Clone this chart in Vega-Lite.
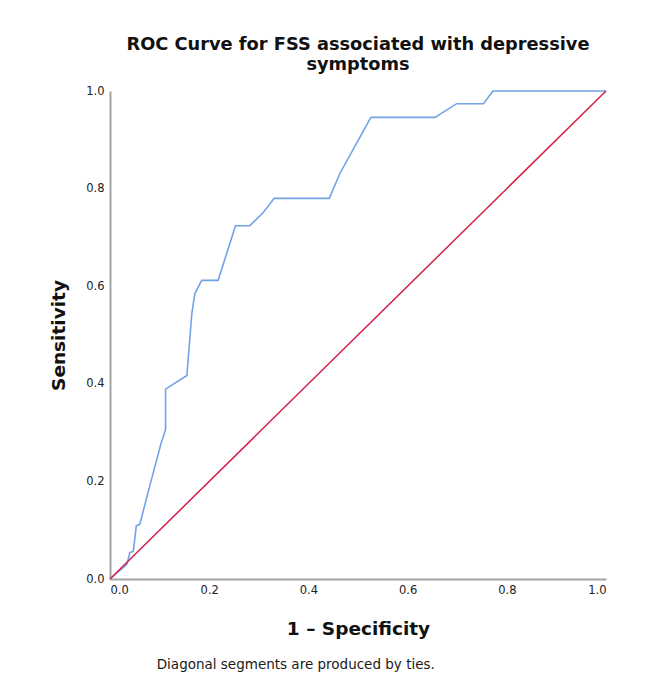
{
  "$schema": "https://vega.github.io/schema/vega-lite/v6.json",
  "background": "white",
  "padding": {"left": 49, "top": 36, "right": 10, "bottom": 5},
  "title": {
    "text": "Diagonal segments are produced by ties.",
    "orient": "bottom",
    "anchor": "start",
    "font": "DejaVu Sans",
    "fontSize": 13.5,
    "fontWeight": "normal",
    "color": "#1a1a1a",
    "dx": 107,
    "offset": 20
  },
  "vconcat": [
    {
      "width": 496,
      "height": 488,
      "title": {
        "text": ["ROC Curve for FSS associated with depressive", "symptoms"],
        "font": "DejaVu Sans",
        "fontSize": 17.8,
        "fontWeight": "bold",
        "color": "#111111",
        "lineHeight": 20,
        "anchor": "middle",
        "frame": "group",
        "offset": 11
      },
      "layer": [
        {
          "data": {
            "values": [
              {"fpr": 0.0, "tpr": 0.0},
              {"fpr": 0.034, "tpr": 0.030},
              {"fpr": 0.040, "tpr": 0.054},
              {"fpr": 0.047, "tpr": 0.057},
              {"fpr": 0.053, "tpr": 0.109},
              {"fpr": 0.060, "tpr": 0.112},
              {"fpr": 0.081, "tpr": 0.194},
              {"fpr": 0.103, "tpr": 0.278},
              {"fpr": 0.112, "tpr": 0.306},
              {"fpr": 0.112, "tpr": 0.389},
              {"fpr": 0.155, "tpr": 0.417},
              {"fpr": 0.165, "tpr": 0.544},
              {"fpr": 0.171, "tpr": 0.585},
              {"fpr": 0.185, "tpr": 0.612},
              {"fpr": 0.218, "tpr": 0.612},
              {"fpr": 0.253, "tpr": 0.724},
              {"fpr": 0.282, "tpr": 0.724},
              {"fpr": 0.309, "tpr": 0.751},
              {"fpr": 0.331, "tpr": 0.780},
              {"fpr": 0.442, "tpr": 0.780},
              {"fpr": 0.464, "tpr": 0.832},
              {"fpr": 0.526, "tpr": 0.946},
              {"fpr": 0.655, "tpr": 0.946},
              {"fpr": 0.699, "tpr": 0.974},
              {"fpr": 0.753, "tpr": 0.974},
              {"fpr": 0.772, "tpr": 1.0},
              {"fpr": 1.0, "tpr": 1.0}
            ]
          },
          "mark": {"type": "line", "color": "#72a3e8", "strokeWidth": 1.6},
          "encoding": {
            "x": {
              "field": "fpr",
              "type": "quantitative",
              "scale": {"domain": [0, 1], "nice": false, "zero": false},
              "axis": {
                "title": "1 – Specificity",
                "values": [0, 0.2, 0.4, 0.6, 0.8, 1.0],
                "format": ".1f",
                "grid": false,
                "ticks": false,
                "labelPadding": 5,
                "titlePadding": 24
              }
            },
            "y": {
              "field": "tpr",
              "type": "quantitative",
              "scale": {"domain": [0, 1], "nice": false, "zero": false},
              "axis": {
                "title": "Sensitivity",
                "values": [0, 0.2, 0.4, 0.6, 0.8, 1.0],
                "format": ".1f",
                "grid": false,
                "ticks": false,
                "labelPadding": 6,
                "titlePadding": 17
              }
            }
          }
        },
        {
          "data": {"values": [{"fpr": 0, "tpr": 0}, {"fpr": 1, "tpr": 1}]},
          "mark": {"type": "line", "color": "#d41f48", "strokeWidth": 1.5},
          "encoding": {
            "x": {"field": "fpr", "type": "quantitative"},
            "y": {"field": "tpr", "type": "quantitative"}
          }
        }
      ]
    }
  ],
  "config": {
    "view": {"stroke": null},
    "axis": {
      "domainColor": "#a3a3a3",
      "domainWidth": 2,
      "labelFont": "DejaVu Sans",
      "labelFontSize": 11.5,
      "labelColor": "#222222",
      "titleFont": "DejaVu Sans",
      "titleFontSize": 18.5,
      "titleFontWeight": "bold",
      "titleColor": "#111111"
    }
  }
}
